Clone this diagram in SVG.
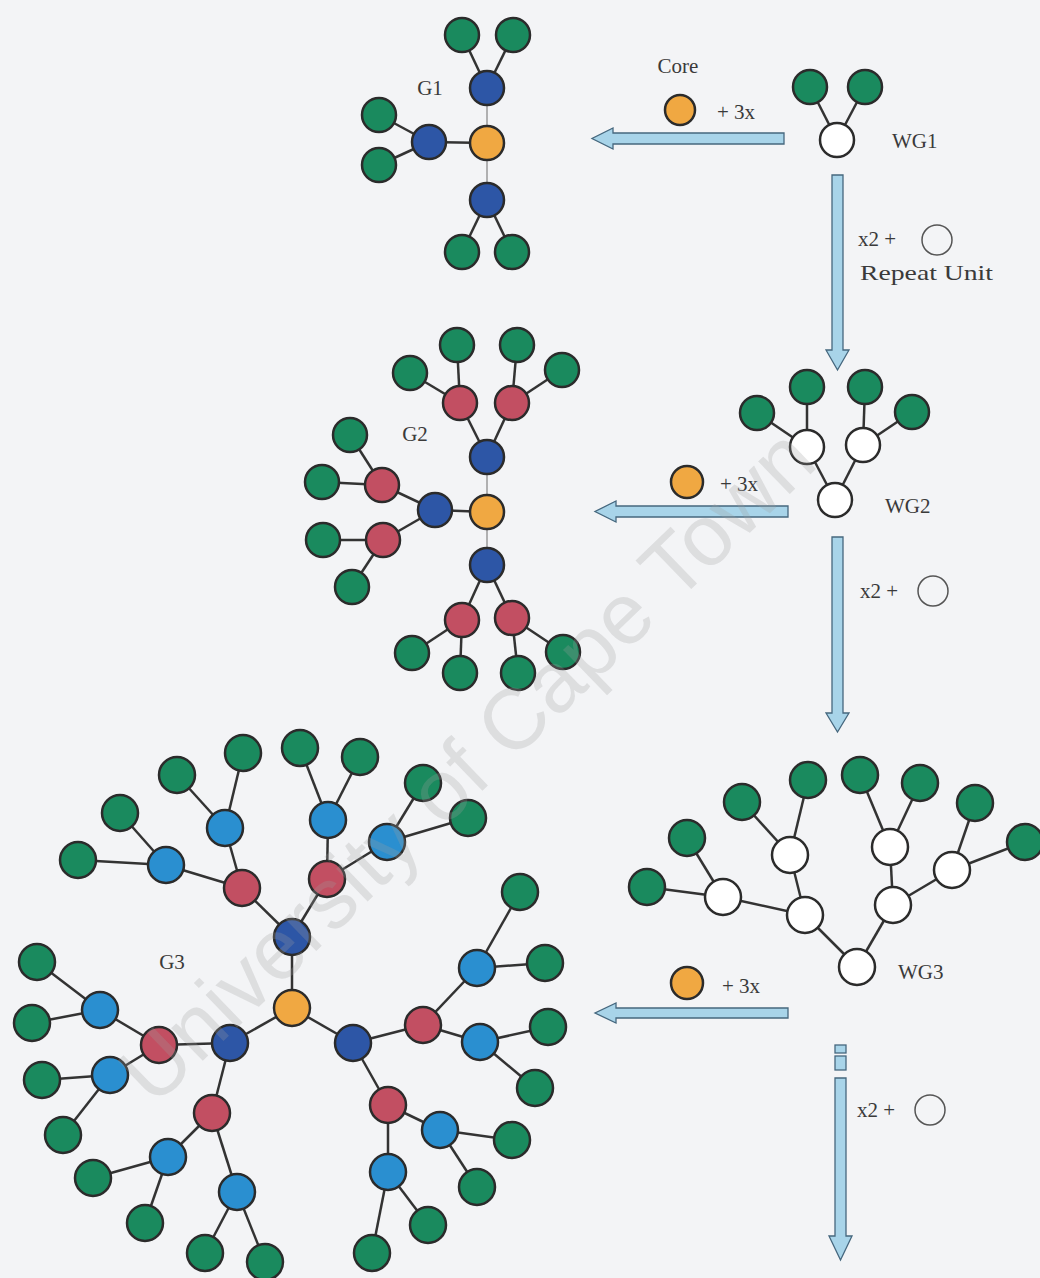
<svg xmlns="http://www.w3.org/2000/svg" width="1040" height="1278" viewBox="0 0 1040 1278">
<defs>
<style>
.n{stroke:#2b2b2b;stroke-width:2.5}
.gr{fill:#1a8a5e}
.db{fill:#2d56a6}
.lb{fill:#2a8fd0}
.rd{fill:#c24f62}
.or{fill:#f0a842}
.wh{fill:#ffffff}
.e{stroke:#333;stroke-width:2.5;fill:none}
.el{stroke:#9a9a9a;stroke-width:1.5;fill:none}
.t{font-family:"Liberation Serif","Times New Roman",serif;font-size:21px;fill:#3a3a3a}
.ar{fill:#a8d4e9;stroke:#45677e;stroke-width:1.3}
.ru{fill:none;stroke:#555;stroke-width:1.5}
.wm{font-family:"Liberation Sans",Arial,sans-serif;font-size:86px;fill:#a0a0a0;fill-opacity:0.26}
</style>
</defs>
<rect width="1040" height="1278" fill="#f3f4f6"/>

<g id="connectors">
<!-- G1 -->
<line class="el" x1="487" y1="143" x2="487" y2="88"/>
<line class="e" x1="487" y1="143" x2="429" y2="142"/>
<line class="el" x1="487" y1="143" x2="487" y2="200"/>
<line class="e" x1="487" y1="88" x2="462" y2="35"/>
<line class="e" x1="487" y1="88" x2="513" y2="35"/>
<line class="e" x1="429" y1="142" x2="379" y2="115"/>
<line class="e" x1="429" y1="142" x2="379" y2="165"/>
<line class="e" x1="487" y1="200" x2="462" y2="252"/>
<line class="e" x1="487" y1="200" x2="512" y2="252"/>
<!-- WG1 -->
<line class="e" x1="837" y1="140" x2="810" y2="87"/>
<line class="e" x1="837" y1="140" x2="865" y2="87"/>
<!-- G2 -->
<line class="el" x1="487" y1="512" x2="487" y2="457"/>
<line class="e" x1="487" y1="512" x2="435" y2="510"/>
<line class="el" x1="487" y1="512" x2="487" y2="565"/>
<line class="e" x1="487" y1="457" x2="460" y2="403"/>
<line class="e" x1="487" y1="457" x2="512" y2="403"/>
<line class="e" x1="460" y1="403" x2="410" y2="373"/>
<line class="e" x1="460" y1="403" x2="457" y2="345"/>
<line class="e" x1="512" y1="403" x2="517" y2="345"/>
<line class="e" x1="512" y1="403" x2="562" y2="370"/>
<line class="e" x1="435" y1="510" x2="382" y2="485"/>
<line class="e" x1="435" y1="510" x2="383" y2="540"/>
<line class="e" x1="382" y1="485" x2="350" y2="435"/>
<line class="e" x1="382" y1="485" x2="322" y2="482"/>
<line class="e" x1="383" y1="540" x2="323" y2="540"/>
<line class="e" x1="383" y1="540" x2="352" y2="587"/>
<line class="e" x1="487" y1="565" x2="462" y2="620"/>
<line class="e" x1="487" y1="565" x2="512" y2="618"/>
<line class="e" x1="462" y1="620" x2="412" y2="653"/>
<line class="e" x1="462" y1="620" x2="460" y2="673"/>
<line class="e" x1="512" y1="618" x2="518" y2="673"/>
<line class="e" x1="512" y1="618" x2="563" y2="652"/>
<!-- WG2 -->
<line class="e" x1="835" y1="500" x2="807" y2="447"/>
<line class="e" x1="835" y1="500" x2="863" y2="445"/>
<line class="e" x1="807" y1="447" x2="757" y2="413"/>
<line class="e" x1="807" y1="447" x2="807" y2="387"/>
<line class="e" x1="863" y1="445" x2="865" y2="387"/>
<line class="e" x1="863" y1="445" x2="912" y2="412"/>
<!-- WG3 -->
<line class="e" x1="857" y1="967" x2="805" y2="915"/>
<line class="e" x1="857" y1="967" x2="893" y2="905"/>
<line class="e" x1="805" y1="915" x2="723" y2="897"/>
<line class="e" x1="805" y1="915" x2="790" y2="855"/>
<line class="e" x1="723" y1="897" x2="647" y2="887"/>
<line class="e" x1="723" y1="897" x2="687" y2="838"/>
<line class="e" x1="790" y1="855" x2="742" y2="802"/>
<line class="e" x1="790" y1="855" x2="808" y2="780"/>
<line class="e" x1="893" y1="905" x2="890" y2="847"/>
<line class="e" x1="893" y1="905" x2="952" y2="870"/>
<line class="e" x1="890" y1="847" x2="860" y2="775"/>
<line class="e" x1="890" y1="847" x2="920" y2="783"/>
<line class="e" x1="952" y1="870" x2="975" y2="803"/>
<line class="e" x1="952" y1="870" x2="1025" y2="842"/>
<!-- G3 -->
<line class="e" x1="292" y1="1008" x2="292" y2="937"/>
<line class="e" x1="292" y1="1008" x2="230" y2="1043"/>
<line class="e" x1="292" y1="1008" x2="353" y2="1043"/>
<line class="e" x1="292" y1="937" x2="242" y2="888"/>
<line class="e" x1="292" y1="937" x2="327" y2="879"/>
<line class="e" x1="242" y1="888" x2="225" y2="828"/>
<line class="e" x1="242" y1="888" x2="166" y2="865"/>
<line class="e" x1="225" y1="828" x2="177" y2="775"/>
<line class="e" x1="225" y1="828" x2="243" y2="753"/>
<line class="e" x1="166" y1="865" x2="120" y2="813"/>
<line class="e" x1="166" y1="865" x2="78" y2="860"/>
<line class="e" x1="327" y1="879" x2="328" y2="820"/>
<line class="e" x1="327" y1="879" x2="387" y2="842"/>
<line class="e" x1="328" y1="820" x2="300" y2="748"/>
<line class="e" x1="328" y1="820" x2="360" y2="757"/>
<line class="e" x1="387" y1="842" x2="423" y2="783"/>
<line class="e" x1="387" y1="842" x2="468" y2="818"/>
<line class="e" x1="230" y1="1043" x2="159" y2="1045"/>
<line class="e" x1="230" y1="1043" x2="212" y2="1113"/>
<line class="e" x1="159" y1="1045" x2="100" y2="1010"/>
<line class="e" x1="159" y1="1045" x2="110" y2="1075"/>
<line class="e" x1="100" y1="1010" x2="37" y2="962"/>
<line class="e" x1="100" y1="1010" x2="32" y2="1023"/>
<line class="e" x1="110" y1="1075" x2="42" y2="1080"/>
<line class="e" x1="110" y1="1075" x2="63" y2="1135"/>
<line class="e" x1="212" y1="1113" x2="168" y2="1157"/>
<line class="e" x1="212" y1="1113" x2="237" y2="1192"/>
<line class="e" x1="168" y1="1157" x2="93" y2="1178"/>
<line class="e" x1="168" y1="1157" x2="145" y2="1223"/>
<line class="e" x1="237" y1="1192" x2="205" y2="1253"/>
<line class="e" x1="237" y1="1192" x2="265" y2="1262"/>
<line class="e" x1="353" y1="1043" x2="423" y2="1025"/>
<line class="e" x1="353" y1="1043" x2="388" y2="1105"/>
<line class="e" x1="423" y1="1025" x2="477" y2="968"/>
<line class="e" x1="423" y1="1025" x2="480" y2="1042"/>
<line class="e" x1="477" y1="968" x2="520" y2="892"/>
<line class="e" x1="477" y1="968" x2="545" y2="963"/>
<line class="e" x1="480" y1="1042" x2="548" y2="1027"/>
<line class="e" x1="480" y1="1042" x2="535" y2="1088"/>
<line class="e" x1="388" y1="1105" x2="440" y2="1130"/>
<line class="e" x1="388" y1="1105" x2="388" y2="1172"/>
<line class="e" x1="440" y1="1130" x2="512" y2="1140"/>
<line class="e" x1="440" y1="1130" x2="477" y2="1187"/>
<line class="e" x1="388" y1="1172" x2="428" y2="1225"/>
<line class="e" x1="388" y1="1172" x2="372" y2="1253"/>
</g>

<g id="arrows">
<path id="arrow-h1" class="ar" d="M784,133 L613,133 L613,128 L592,138.5 L613,149 L613,144 L784,144 Z"/>
<path id="arrow-h2" class="ar" d="M788,506 L616,506 L616,501 L595,511.5 L616,522 L616,517 L788,517 Z"/>
<path id="arrow-h3" class="ar" d="M788,1008 L616,1008 L616,1003 L595,1013 L616,1023 L616,1018 L788,1018 Z"/>
<path id="arrow-v1" class="ar" d="M832,175 L843,175 L843,350 L849,350 L837.5,370 L826,350 L832,350 Z"/>
<path id="arrow-v2" class="ar" d="M832,537 L843,537 L843,713 L849,713 L837.5,732 L826,713 L832,713 Z"/>
<g id="arrow-v3">
<rect class="ar" x="835" y="1045" width="11" height="8"/>
<rect class="ar" x="835" y="1056" width="11" height="14"/>
<path class="ar" d="M835,1078 L846,1078 L846,1236 L852,1236 L840.5,1260 L829,1236 L835,1236 Z"/>
</g>
</g>

<!-- G1 -->
<g id="g1-core"><circle class="n or" cx="487" cy="143" r="17"/></g>
<g id="g1-b1"><circle class="n db" cx="487" cy="88" r="17"/></g>
<g id="g1-b2"><circle class="n db" cx="429" cy="142" r="17"/></g>
<g id="g1-b3"><circle class="n db" cx="487" cy="200" r="17"/></g>
<g id="g1-e1"><circle class="n gr" cx="462" cy="35" r="17"/></g>
<g id="g1-e2"><circle class="n gr" cx="513" cy="35" r="17"/></g>
<g id="g1-e3"><circle class="n gr" cx="379" cy="115" r="17"/></g>
<g id="g1-e4"><circle class="n gr" cx="379" cy="165" r="17"/></g>
<g id="g1-e5"><circle class="n gr" cx="462" cy="252" r="17"/></g>
<g id="g1-e6"><circle class="n gr" cx="512" cy="252" r="17"/></g>

<!-- WG1 -->
<g id="wg1-root"><circle class="n wh" cx="837" cy="140" r="17"/></g>
<g id="wg1-e1"><circle class="n gr" cx="810" cy="87" r="17"/></g>
<g id="wg1-e2"><circle class="n gr" cx="865" cy="87" r="17"/></g>

<!-- G2 -->
<g id="g2-core"><circle class="n or" cx="487" cy="512" r="17"/></g>
<g id="g2-b1"><circle class="n db" cx="487" cy="457" r="17"/></g>
<g id="g2-b2"><circle class="n db" cx="435" cy="510" r="17"/></g>
<g id="g2-b3"><circle class="n db" cx="487" cy="565" r="17"/></g>
<g id="g2-r1"><circle class="n rd" cx="460" cy="403" r="17"/></g>
<g id="g2-r2"><circle class="n rd" cx="512" cy="403" r="17"/></g>
<g id="g2-r3"><circle class="n rd" cx="382" cy="485" r="17"/></g>
<g id="g2-r4"><circle class="n rd" cx="383" cy="540" r="17"/></g>
<g id="g2-r5"><circle class="n rd" cx="462" cy="620" r="17"/></g>
<g id="g2-r6"><circle class="n rd" cx="512" cy="618" r="17"/></g>
<g id="g2-e1"><circle class="n gr" cx="410" cy="373" r="17"/></g>
<g id="g2-e2"><circle class="n gr" cx="457" cy="345" r="17"/></g>
<g id="g2-e3"><circle class="n gr" cx="517" cy="345" r="17"/></g>
<g id="g2-e4"><circle class="n gr" cx="562" cy="370" r="17"/></g>
<g id="g2-e5"><circle class="n gr" cx="350" cy="435" r="17"/></g>
<g id="g2-e6"><circle class="n gr" cx="322" cy="482" r="17"/></g>
<g id="g2-e7"><circle class="n gr" cx="323" cy="540" r="17"/></g>
<g id="g2-e8"><circle class="n gr" cx="352" cy="587" r="17"/></g>
<g id="g2-e9"><circle class="n gr" cx="412" cy="653" r="17"/></g>
<g id="g2-e10"><circle class="n gr" cx="460" cy="673" r="17"/></g>
<g id="g2-e11"><circle class="n gr" cx="518" cy="673" r="17"/></g>
<g id="g2-e12"><circle class="n gr" cx="563" cy="652" r="17"/></g>

<!-- WG2 -->
<g id="wg2-root"><circle class="n wh" cx="835" cy="500" r="17"/></g>
<g id="wg2-w1"><circle class="n wh" cx="807" cy="447" r="17"/></g>
<g id="wg2-w2"><circle class="n wh" cx="863" cy="445" r="17"/></g>
<g id="wg2-e1"><circle class="n gr" cx="757" cy="413" r="17"/></g>
<g id="wg2-e2"><circle class="n gr" cx="807" cy="387" r="17"/></g>
<g id="wg2-e3"><circle class="n gr" cx="865" cy="387" r="17"/></g>
<g id="wg2-e4"><circle class="n gr" cx="912" cy="412" r="17"/></g>

<!-- WG3 -->
<g id="wg3-root"><circle class="n wh" cx="857" cy="967" r="18"/></g>
<g id="wg3-w1"><circle class="n wh" cx="805" cy="915" r="18"/></g>
<g id="wg3-w2"><circle class="n wh" cx="893" cy="905" r="18"/></g>
<g id="wg3-w3"><circle class="n wh" cx="723" cy="897" r="18"/></g>
<g id="wg3-w4"><circle class="n wh" cx="790" cy="855" r="18"/></g>
<g id="wg3-w5"><circle class="n wh" cx="890" cy="847" r="18"/></g>
<g id="wg3-w6"><circle class="n wh" cx="952" cy="870" r="18"/></g>
<g id="wg3-e1"><circle class="n gr" cx="647" cy="887" r="18"/></g>
<g id="wg3-e2"><circle class="n gr" cx="687" cy="838" r="18"/></g>
<g id="wg3-e3"><circle class="n gr" cx="742" cy="802" r="18"/></g>
<g id="wg3-e4"><circle class="n gr" cx="808" cy="780" r="18"/></g>
<g id="wg3-e5"><circle class="n gr" cx="860" cy="775" r="18"/></g>
<g id="wg3-e6"><circle class="n gr" cx="920" cy="783" r="18"/></g>
<g id="wg3-e7"><circle class="n gr" cx="975" cy="803" r="18"/></g>
<g id="wg3-e8"><circle class="n gr" cx="1025" cy="842" r="18"/></g>

<!-- G3 -->
<g id="g3-core"><circle class="n or" cx="292" cy="1008" r="18"/></g>
<g id="g3-b1"><circle class="n db" cx="292" cy="937" r="18"/></g>
<g id="g3-b2"><circle class="n db" cx="230" cy="1043" r="18"/></g>
<g id="g3-b3"><circle class="n db" cx="353" cy="1043" r="18"/></g>
<g id="g3-r1"><circle class="n rd" cx="242" cy="888" r="18"/></g>
<g id="g3-r2"><circle class="n rd" cx="327" cy="879" r="18"/></g>
<g id="g3-r3"><circle class="n rd" cx="159" cy="1045" r="18"/></g>
<g id="g3-r4"><circle class="n rd" cx="212" cy="1113" r="18"/></g>
<g id="g3-r5"><circle class="n rd" cx="423" cy="1025" r="18"/></g>
<g id="g3-r6"><circle class="n rd" cx="388" cy="1105" r="18"/></g>
<g id="g3-l1"><circle class="n lb" cx="225" cy="828" r="18"/></g>
<g id="g3-l2"><circle class="n lb" cx="166" cy="865" r="18"/></g>
<g id="g3-l3"><circle class="n lb" cx="328" cy="820" r="18"/></g>
<g id="g3-l4"><circle class="n lb" cx="387" cy="842" r="18"/></g>
<g id="g3-l5"><circle class="n lb" cx="100" cy="1010" r="18"/></g>
<g id="g3-l6"><circle class="n lb" cx="110" cy="1075" r="18"/></g>
<g id="g3-l7"><circle class="n lb" cx="168" cy="1157" r="18"/></g>
<g id="g3-l8"><circle class="n lb" cx="237" cy="1192" r="18"/></g>
<g id="g3-l9"><circle class="n lb" cx="477" cy="968" r="18"/></g>
<g id="g3-l10"><circle class="n lb" cx="480" cy="1042" r="18"/></g>
<g id="g3-l11"><circle class="n lb" cx="440" cy="1130" r="18"/></g>
<g id="g3-l12"><circle class="n lb" cx="388" cy="1172" r="18"/></g>
<g id="g3-e1"><circle class="n gr" cx="177" cy="775" r="18"/></g>
<g id="g3-e2"><circle class="n gr" cx="243" cy="753" r="18"/></g>
<g id="g3-e3"><circle class="n gr" cx="120" cy="813" r="18"/></g>
<g id="g3-e4"><circle class="n gr" cx="78" cy="860" r="18"/></g>
<g id="g3-e5"><circle class="n gr" cx="300" cy="748" r="18"/></g>
<g id="g3-e6"><circle class="n gr" cx="360" cy="757" r="18"/></g>
<g id="g3-e7"><circle class="n gr" cx="423" cy="783" r="18"/></g>
<g id="g3-e8"><circle class="n gr" cx="468" cy="818" r="18"/></g>
<g id="g3-e9"><circle class="n gr" cx="37" cy="962" r="18"/></g>
<g id="g3-e10"><circle class="n gr" cx="32" cy="1023" r="18"/></g>
<g id="g3-e11"><circle class="n gr" cx="42" cy="1080" r="18"/></g>
<g id="g3-e12"><circle class="n gr" cx="63" cy="1135" r="18"/></g>
<g id="g3-e13"><circle class="n gr" cx="93" cy="1178" r="18"/></g>
<g id="g3-e14"><circle class="n gr" cx="145" cy="1223" r="18"/></g>
<g id="g3-e15"><circle class="n gr" cx="205" cy="1253" r="18"/></g>
<g id="g3-e16"><circle class="n gr" cx="265" cy="1262" r="18"/></g>
<g id="g3-e17"><circle class="n gr" cx="520" cy="892" r="18"/></g>
<g id="g3-e18"><circle class="n gr" cx="545" cy="963" r="18"/></g>
<g id="g3-e19"><circle class="n gr" cx="548" cy="1027" r="18"/></g>
<g id="g3-e20"><circle class="n gr" cx="535" cy="1088" r="18"/></g>
<g id="g3-e21"><circle class="n gr" cx="512" cy="1140" r="18"/></g>
<g id="g3-e22"><circle class="n gr" cx="477" cy="1187" r="18"/></g>
<g id="g3-e23"><circle class="n gr" cx="428" cy="1225" r="18"/></g>
<g id="g3-e24"><circle class="n gr" cx="372" cy="1253" r="18"/></g>

<!-- reagent labels -->
<g id="core-1"><circle class="n or" cx="680" cy="110" r="15" stroke-width="1.5"/></g>
<g id="core-2"><circle class="n or" cx="687" cy="482" r="16" stroke-width="1.5"/></g>
<g id="core-3"><circle class="n or" cx="687" cy="983" r="16" stroke-width="1.5"/></g>
<g id="ru-1"><circle class="ru" cx="937" cy="240" r="15"/></g>
<g id="ru-2"><circle class="ru" cx="933" cy="591" r="15"/></g>
<g id="ru-3"><circle class="ru" cx="930" cy="1110" r="15"/></g>

<g id="labels">
<text class="t" x="430" y="95" text-anchor="middle">G1</text>
<text class="t" x="678" y="73" text-anchor="middle" font-size="19">Core</text>
<text class="t" x="717" y="119">+ 3x</text>
<text class="t" x="892" y="148">WG1</text>
<text class="t" x="858" y="246">x2 +</text>
<text class="t" x="860" y="280" textLength="133" lengthAdjust="spacingAndGlyphs">Repeat Unit</text>
<text class="t" x="415" y="441" text-anchor="middle">G2</text>
<text class="t" x="720" y="491">+ 3x</text>
<text class="t" x="885" y="513">WG2</text>
<text class="t" x="860" y="598">x2 +</text>
<text class="t" x="172" y="969" text-anchor="middle">G3</text>
<text class="t" x="722" y="993">+ 3x</text>
<text class="t" x="898" y="979">WG3</text>
<text class="t" x="857" y="1117">x2 +</text>
</g>

<text class="wm" transform="translate(466,765) rotate(-44)" x="0" y="30" text-anchor="middle">University of Cape Town</text>
</svg>
